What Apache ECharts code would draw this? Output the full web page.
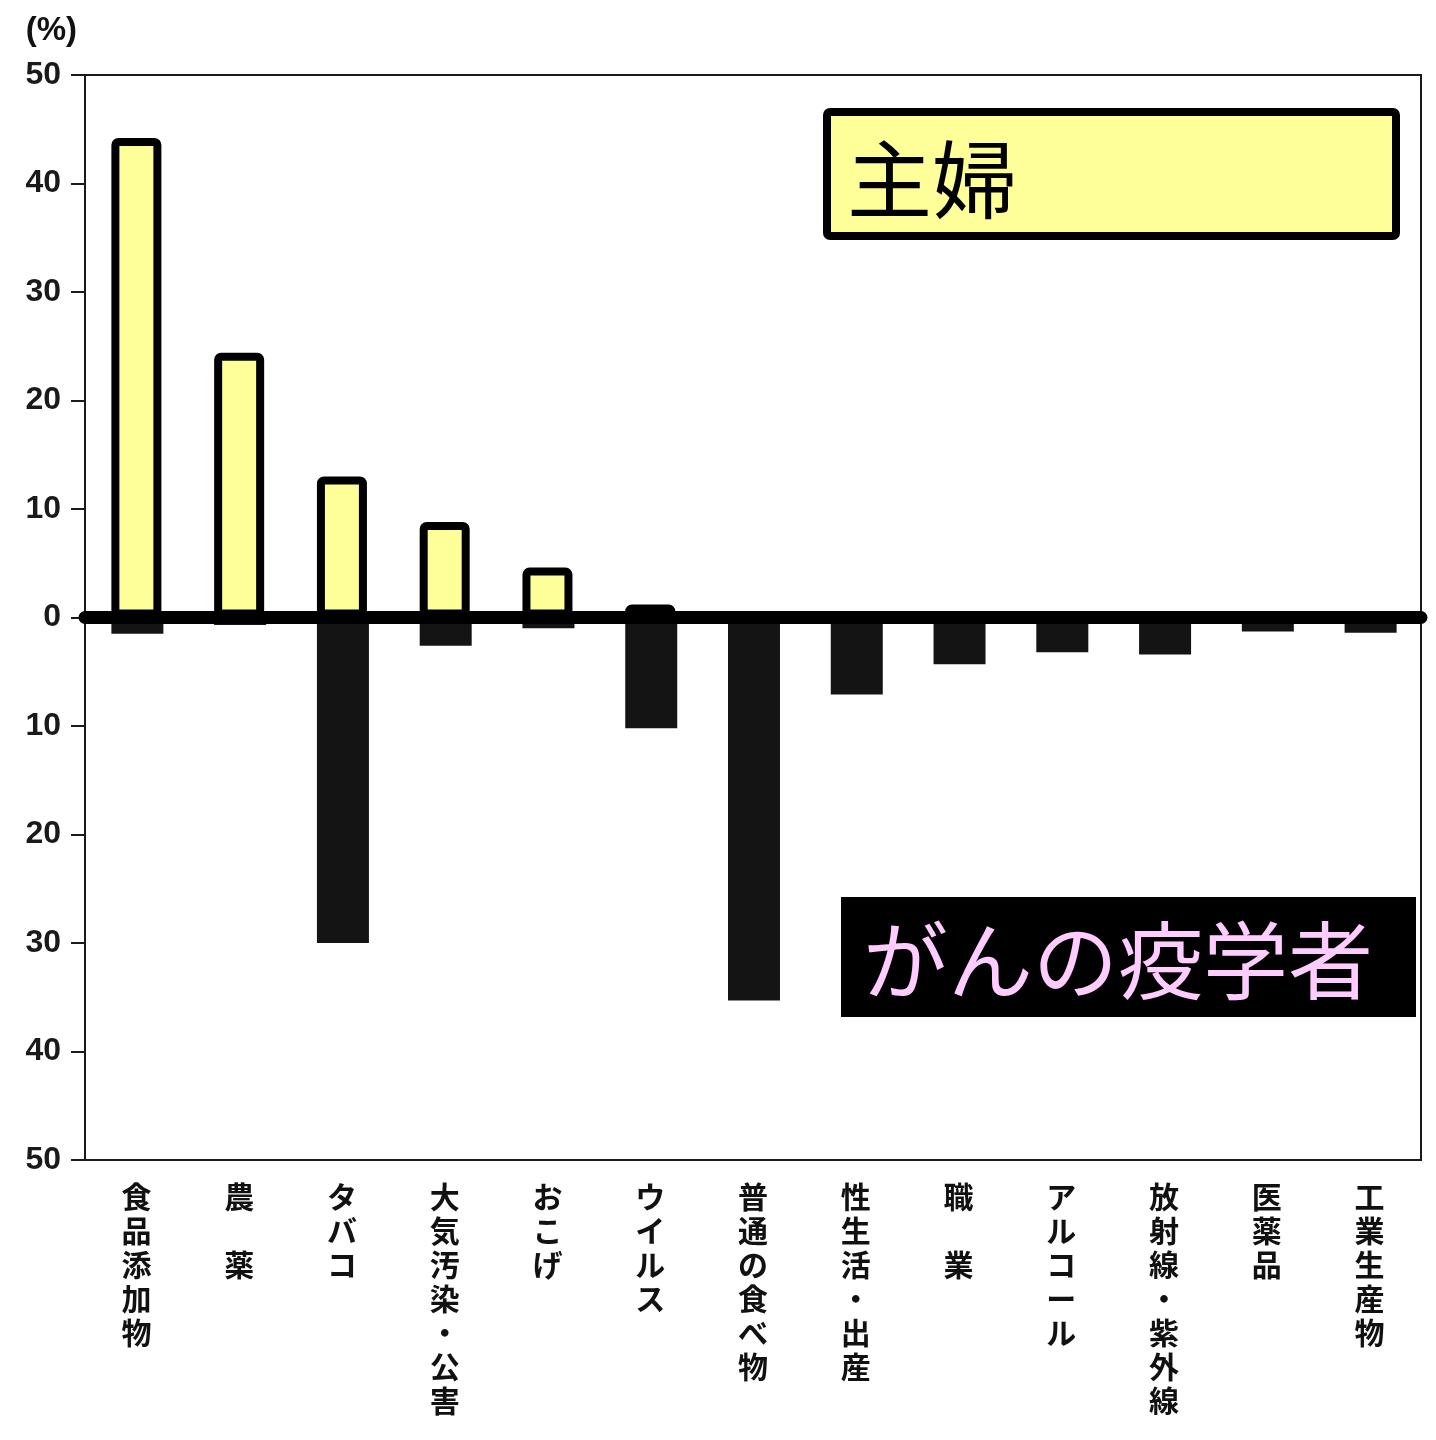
<!DOCTYPE html>
<html>
<head>
<meta charset="utf-8">
<script src="https://cdn.jsdelivr.net/npm/echarts@6/dist/echarts.min.js"></script>
<style>
html,body{margin:0;padding:0;background:#fff;}
#chart{width:1436px;height:1440px;}
</style>
</head>
<body>
<div id="chart"></div>
<script>
// ---- data ----
var categories = ['食品添加物','農　薬','タバコ','大気汚染・公害','おこげ','ウイルス','普通の食べ物','性生活・出産','職　業','アルコール','放射線・紫外線','医薬品','工業生産物'];
var housewifeName = '主婦';
var epidemiologistName = 'がんの疫学者';
var housewifeValues = [44.2, 24.4, 13, 8.8, 4.6, 1.2, null, null, null, null, null, null, null];
var epidemiologistValues = [-1.5, -0.7, -30, -2.6, -1, -10.2, -35.3, -7.1, -4.3, -3.2, -3.4, -1.3, -1.4];
var yTicks = [-50,-40,-30,-20,-10,0,10,20,30,40,50];

var chart = echarts.init(document.getElementById('chart'));
var CJK = '"Noto Sans CJK JP", "Noto Sans", sans-serif';

var option = {
  backgroundColor: '#ffffff',
  animation: false,
  grid: {
    left: 85, top: 75, width: 1336, height: 1085,
    show: true, borderColor: '#1a1a1a', borderWidth: 2, backgroundColor: 'transparent'
  },
  xAxis: {
    type: 'category',
    data: categories,
    position: 'bottom',
    axisLine: { show: false, onZero: false },
    axisTick: { show: false },
    axisLabel: {
      interval: 0,
      margin: 20,
      color: '#111',
      fontFamily: CJK,
      fontWeight: 'bold',
      fontSize: 30,
      lineHeight: 34,
      verticalAlign: 'top',
      formatter: function (v) { return v.split('').join('\n'); }
    }
  },
  yAxis: {
    type: 'value',
    min: yTicks[0], max: yTicks[yTicks.length - 1], interval: 10,
    name: '(%)',
    nameLocation: 'end',
    nameGap: 28,
    nameTextStyle: { color: '#111', fontFamily: 'Liberation Sans, Arial, sans-serif', fontWeight: 'bold', fontSize: 33, align: 'right', padding: [0, 8, 0, 0] },
    splitLine: { show: false },
    axisLine: { show: true, lineStyle: { color: '#1a1a1a', width: 2 } },
    axisTick: { show: true, length: 14, lineStyle: { color: '#1a1a1a', width: 2 } },
    axisLabel: {
      margin: 24,
      color: '#1a1a1a',
      fontFamily: 'Liberation Sans, Arial, sans-serif',
      fontWeight: 'bold',
      fontSize: 32,
      formatter: function (v) { return String(Math.abs(v)); }
    }
  },
  series: [
    {
      name: epidemiologistName,
      type: 'bar',
      data: epidemiologistValues,
      barWidth: 52,
      barGap: '-100%',
      itemStyle: { color: '#141414' },
      z: 2
    },
    {
      name: housewifeName,
      type: 'bar',
      data: housewifeValues,
      barWidth: 50,
      barGap: '-100%',
      itemStyle: { color: '#ffff99', borderColor: '#000', borderWidth: 8, borderRadius: 3 },
      z: 3,
      markLine: {
        silent: true,
        symbol: ['none', 'none'],
        label: { show: false },
        lineStyle: { color: '#000', width: 13, type: 'solid', cap: 'round' },
        data: [{ yAxis: 0 }],
        z: 10
      }
    }
  ],
  graphic: [
    {
      type: 'group', left: 823, top: 108, z: 20,
      children: [
        { type: 'rect', shape: { x: 4, y: 4, width: 569, height: 124, r: 3 },
          style: { fill: '#ffff99', stroke: '#000', lineWidth: 8 } },
        { type: 'text', x: 24, y: 72,
          style: { text: housewifeName, fill: '#000', font: 'normal 85px "Noto Sans CJK JP"', textVerticalAlign: 'middle' } }
      ]
    },
    {
      type: 'group', left: 841, top: 897, z: 20,
      children: [
        { type: 'rect', shape: { x: 0, y: 0, width: 575, height: 120 },
          style: { fill: '#000' } },
        { type: 'text', x: 22, y: 64,
          style: { text: epidemiologistName, fill: '#ffccff', font: 'normal 85px "Noto Sans CJK JP"', textVerticalAlign: 'middle' } }
      ]
    }
  ]
};
chart.setOption(option);
</script>
</body>
</html>
